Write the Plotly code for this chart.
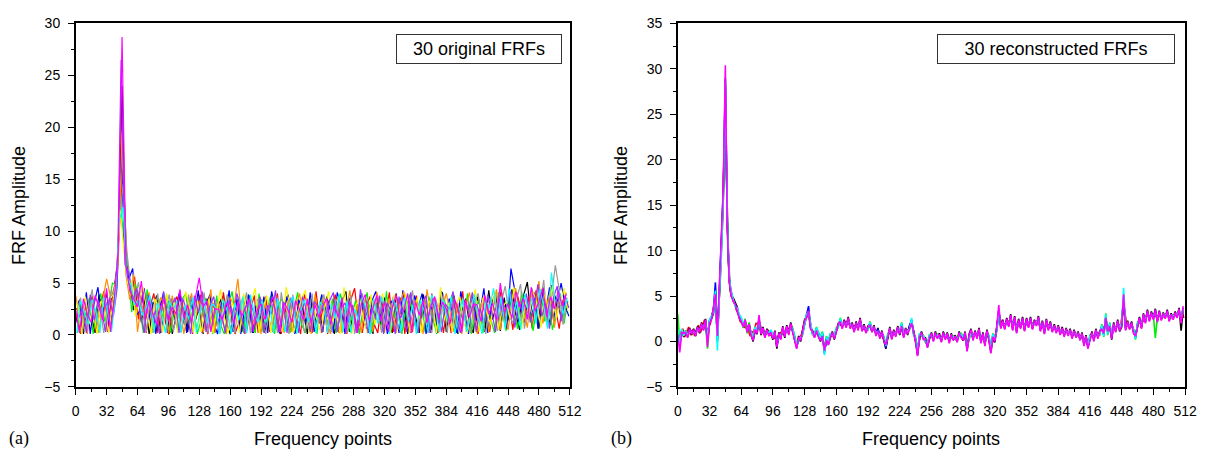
import plotly.graph_objects as go

W, H = 1224, 456

# ---------------- Panel (a): 30 original FRFs (subset of traces) -------------
# each series sampled every 4 frequency points, starting at its own offset
a_step = 4
a_black = [
    1.2, 3.4, 0.1, 2.8, 1.9, 0.2, 3.9, 2.2, 4.1, 1.1, 4.6, 7.5, 24.0, 6.3, 5.1, 2.4,
    4.3, 1.2, 3.6, 0.1, 2.9, 3.8, 0.2, 2.1, 3.3, 0.1, 1.7, 3.9, 2.5, 0.3, 3.1, 1.4,
    2.7, 0.1, 3.5, 1.8, 0.2, 2.9, 3.7, 1.2, 0.1, 2.6, 3.3, 0.3, 2.0, 3.8, 0.2, 1.9,
    3.4, 0.2, 2.2, 3.6, 1.0, 0.1, 2.8, 3.9, 1.5, 0.2, 3.2, 2.1, 0.1, 3.5, 1.3, 2.7,
    0.3, 3.7, 2.4, 0.1, 1.6, 3.3, 4.2, 0.3, 2.3, 0.2, 3.8, 1.7, 2.9, 0.1, 3.1, 1.0,
    3.6, 2.0, 0.2, 4.0, 1.4, 2.8, 0.1, 3.4, 1.9, 0.2, 3.9, 2.5, 0.2, 3.0, 1.6, 4.1,
    0.3, 2.6, 3.8, 0.1, 2.2, 3.5, 1.1, 0.2, 3.7, 2.4, 0.3, 4.3, 1.5, 2.9, 0.4, 3.6,
    1.4, 4.4, 2.0, 0.5, 3.8, 5.1, 1.6, 3.2, 0.6, 4.6, 2.3, 1.0, 3.9, 2.7, 1.5, 4.0]
a_red = [
    2.6, 0.1, 3.1, 1.5, 3.8, 0.3, 2.4, 4.2, 0.3, 3.5, 3.9, 9.5, 16.0, 7.2, 3.8, 5.6,
    1.5, 3.9, 0.2, 2.8, 4.0, 0.2, 3.3, 1.2, 0.1, 2.9, 3.7, 0.3, 1.9, 3.4, 0.1, 2.5,
    3.9, 1.3, 0.1, 3.1, 2.3, 0.2, 4.1, 1.7, 2.9, 0.1, 1.2, 3.6, 0.3, 2.4, 3.8, 0.2,
    2.1, 3.7, 0.3, 1.4, 4.0, 0.1, 2.6, 0.3, 3.3, 1.8, 0.1, 3.9, 2.7, 0.2, 4.2, 1.1,
    3.0, 0.1, 2.5, 3.9, 0.2, 1.9, 0.1, 3.4, 4.5, 1.3, 0.2, 2.8, 3.7, 1.1, 0.2, 3.3,
    1.7, 4.1, 0.3, 2.2, 3.6, 0.1, 2.9, 0.3, 3.8, 1.5, 2.3, 0.2, 4.0, 1.2, 3.1, 0.2,
    2.8, 0.2, 3.3, 1.9, 4.2, 0.3, 2.6, 3.9, 0.1, 3.2, 1.8, 0.3, 3.6, 2.1, 4.4, 1.0,
    3.0, 0.5, 4.1, 2.5, 1.2, 3.7, 0.6, 4.3, 2.0, 3.5, 1.1, 4.8, 2.6, 0.6, 3.4, 2.2]
a_green = [
    0.2, 2.9, 1.8, 3.6, 0.1, 2.5, 4.0, 1.3, 2.7, 5.0, 4.8, 13.0, 9.0, 6.6, 2.2, 4.9,
    3.0, 0.2, 4.4, 2.0, 0.3, 3.5, 1.6, 3.9, 0.2, 2.2, 0.3, 3.4, 4.0, 1.1, 2.7, 0.1,
    1.5, 3.6, 2.4, 0.1, 3.8, 1.0, 0.1, 2.7, 4.2, 1.6, 3.0, 0.2, 3.5, 1.2, 0.2, 4.0,
    0.3, 2.3, 3.8, 0.1, 2.9, 3.5, 1.3, 0.2, 2.4, 4.1, 1.0, 0.2, 3.2, 1.9, 0.1, 3.6,
    2.2, 1.0, 3.5, 0.2, 4.0, 2.6, 0.3, 1.9, 3.3, 0.1, 2.7, 4.1, 0.2, 2.3, 3.6, 0.3,
    4.2, 0.2, 1.8, 3.3, 0.1, 2.4, 3.9, 1.4, 0.2, 3.1, 0.3, 3.7, 1.7, 0.1, 2.8, 3.5,
    1.2, 3.9, 0.2, 2.7, 1.4, 4.0, 0.1, 2.5, 3.4, 0.2, 2.9, 1.6, 0.2, 4.1, 2.2, 0.4,
    3.6, 2.1, 0.6, 4.2, 1.7, 3.0, 0.4, 2.8, 4.4, 1.3, 3.6, 0.5, 2.4, 4.0, 1.1, 3.3]
a_blue = [
    3.3, 1.0, 4.1, 0.1, 3.0, 4.6, 1.7, 3.2, 1.0, 2.8, 5.2, 17.5, 7.5, 5.4, 6.4, 1.9,
    2.4, 4.5, 1.0, 3.2, 0.1, 2.6, 4.1, 0.2, 3.5, 1.4, 4.0, 2.3, 0.2, 3.7, 1.8, 4.3,
    0.2, 2.8, 3.9, 1.1, 0.1, 3.3, 2.0, 4.3, 0.3, 3.5, 0.1, 2.4, 3.9, 0.2, 2.9, 1.4,
    3.7, 0.2, 4.2, 2.5, 0.2, 1.8, 3.7, 2.3, 0.1, 3.4, 2.6, 1.1, 4.1, 0.3, 2.2, 3.9,
    1.3, 2.9, 0.2, 4.1, 2.8, 0.1, 3.6, 2.4, 0.3, 3.9, 1.2, 0.2, 3.3, 4.2, 1.7, 2.5,
    0.1, 3.3, 2.6, 0.2, 4.3, 1.6, 0.2, 3.8, 2.7, 4.0, 0.1, 2.1, 3.2, 0.2, 4.2, 1.5,
    3.5, 1.9, 0.2, 4.2, 2.4, 0.1, 3.7, 1.4, 2.2, 4.5, 0.2, 3.0, 4.0, 1.2, 3.4, 0.6,
    6.4, 4.3, 1.3, 3.5, 2.6, 2.0, 4.1, 0.6, 3.9, 2.2, 4.6, 1.5, 3.4, 5.0, 2.9, 1.8]
a_orange = [
    3.8, 1.6, 2.3, 0.1, 3.2, 2.0, 0.2, 3.4, 5.4, 3.7, 4.3, 6.8, 19.5, 5.8, 3.4, 5.9,
    0.3, 3.0, 1.8, 4.1, 0.2, 1.7, 3.6, 2.9, 0.1, 3.8, 1.1, 2.6, 0.1, 2.2, 4.0, 1.5,
    3.3, 0.2, 1.9, 4.4, 0.2, 3.2, 1.3, 0.1, 3.6, 2.8, 5.4, 1.5, 0.1, 3.2, 1.0, 2.6,
    0.1, 3.1, 1.6, 0.3, 3.8, 2.5, 0.2, 3.3, 0.3, 2.7, 4.0, 1.3, 2.6, 0.1, 3.9, 1.2,
    3.6, 1.4, 0.1, 2.9, 3.7, 0.2, 2.0, 4.3, 1.1, 3.0, 0.2, 3.5, 2.0, 0.3, 4.1, 2.8,
    0.2, 3.5, 2.2, 0.2, 3.0, 4.2, 1.2, 0.2, 3.3, 2.4, 0.1, 4.4, 1.9, 3.6, 0.2, 2.6,
    4.0, 2.3, 0.3, 3.1, 0.1, 2.6, 4.1, 1.9, 0.1, 2.9, 3.8, 0.3, 2.4, 4.4, 0.5, 2.7,
    0.5, 3.2, 4.5, 1.4, 2.5, 0.7, 3.9, 2.4, 5.2, 1.1, 2.9, 4.3, 0.7, 3.3, 2.5, 4.1]
a_gray = [
    1.9, 3.6, 0.3, 2.4, 4.4, 1.2, 3.0, 0.2, 2.1, 4.4, 3.1, 10.5, 14.5, 8.0, 4.7, 3.2,
    5.1, 2.3, 0.3, 3.3, 1.7, 4.0, 0.2, 2.5, 3.9, 0.3, 2.0, 3.2, 1.0, 3.9, 0.2, 3.0,
    2.0, 4.1, 0.2, 2.6, 3.4, 0.1, 2.2, 3.9, 1.2, 0.2, 3.7, 2.2, 4.1, 0.2, 2.7, 3.5,
    1.5, 0.1, 3.1, 2.8, 0.2, 4.1, 1.6, 0.1, 3.9, 1.2, 3.0, 0.2, 1.8, 4.0, 0.2, 2.4,
    3.9, 2.1, 0.3, 3.4, 1.2, 2.7, 0.2, 3.8, 0.1, 2.1, 4.0, 1.5, 0.1, 3.2, 2.2, 0.2,
    2.9, 1.3, 3.7, 1.0, 0.2, 3.4, 2.2, 4.3, 0.3, 2.6, 3.5, 1.0, 0.2, 3.5, 2.0, 3.9,
    0.2, 3.4, 2.1, 0.2, 3.6, 1.5, 0.2, 3.3, 4.0, 1.5, 0.1, 3.5, 2.8, 0.4, 3.1, 4.7,
    2.0, 1.1, 3.5, 4.9, 0.6, 2.8, 4.5, 1.6, 3.0, 5.3, 0.7, 3.7, 6.7, 4.4, 1.0, 3.6]
a_yellow = [
    3.0, 0.1, 3.7, 1.1, 2.6, 0.1, 3.3, 2.6, 0.2, 3.1, 5.5, 12.0, 8.0, 5.0, 5.2, 1.8,
    3.7, 4.6, 2.0, 0.1, 3.5, 2.7, 0.3, 4.0, 1.8, 3.2, 0.2, 2.0, 4.2, 2.6, 0.3, 3.3,
    0.3, 2.2, 3.5, 0.2, 2.5, 4.4, 1.7, 0.2, 3.2, 2.1, 0.2, 4.0, 1.9, 3.3, 4.5, 0.2,
    2.6, 3.8, 0.2, 3.3, 1.4, 0.3, 4.6, 2.8, 0.2, 2.2, 3.5, 4.3, 0.2, 2.9, 1.4, 0.2,
    2.6, 4.2, 1.3, 2.2, 0.1, 4.6, 1.5, 0.1, 2.8, 3.6, 1.6, 0.2, 3.9, 1.0, 2.5, 4.0,
    1.3, 0.2, 3.9, 2.9, 1.1, 4.0, 0.2, 2.2, 3.6, 0.2, 1.8, 3.3, 2.8, 0.2, 4.6, 1.4,
    3.1, 0.3, 2.9, 3.7, 1.2, 0.2, 2.7, 4.4, 0.3, 3.6, 2.2, 1.0, 4.2, 0.5, 2.6, 3.2,
    1.6, 4.6, 2.8, 0.6, 3.3, 1.9, 4.2, 3.0, 0.7, 3.9, 2.4, 4.7, 1.6, 3.1, 4.5, 2.3]
a_purple = [
    1.6, 2.7, 0.2, 3.9, 1.4, 3.3, 2.2, 0.3, 3.6, 1.8, 4.6, 26.5, 6.8, 6.0, 3.2, 4.5,
    2.1, 0.2, 3.9, 1.6, 2.3, 0.1, 4.2, 1.5, 2.8, 3.6, 0.2, 3.5, 2.3, 0.1, 3.8, 2.1,
    4.2, 0.3, 2.8, 3.7, 1.2, 2.1, 0.2, 3.4, 1.9, 4.0, 2.3, 0.1, 3.3, 2.6, 1.1, 3.7,
    0.2, 2.9, 2.0, 4.3, 0.3, 3.2, 0.2, 3.6, 2.1, 0.2, 3.7, 2.4, 0.3, 3.2, 2.8, 0.2,
    1.9, 3.3, 4.1, 0.3, 2.6, 3.1, 1.2, 2.9, 0.2, 4.4, 2.5, 0.2, 2.7, 1.5, 3.8, 0.1,
    3.1, 2.2, 0.1, 3.7, 2.1, 0.3, 4.1, 1.8, 0.2, 2.9, 3.8, 0.2, 3.4, 2.3, 0.3, 3.0,
    2.5, 4.2, 1.4, 0.2, 3.2, 2.4, 4.1, 0.3, 2.6, 1.1, 3.9, 2.3, 0.3, 3.5, 1.7, 2.9,
    4.2, 0.7, 3.1, 2.3, 4.0, 1.2, 2.6, 4.9, 1.8, 3.1, 0.6, 3.6, 4.7, 1.3, 3.8, 2.6]
a_cyan = [
    0.2, 3.3, 2.1, 1.0, 3.4, 2.2, 0.2, 3.7, 2.3, 0.3, 3.6, 11.0, 12.3, 5.6, 4.9, 2.9,
    3.4, 1.9, 2.6, 3.8, 0.2, 3.1, 2.0, 0.2, 3.3, 2.4, 3.3, 0.2, 2.9, 1.5, 3.6, 0.3,
    2.4, 3.4, 1.1, 3.0, 2.7, 0.1, 3.4, 2.3, 0.1, 3.1, 1.4, 3.7, 0.2, 3.9, 2.0, 1.2,
    3.4, 1.2, 2.9, 0.2, 3.5, 2.2, 0.3, 2.9, 3.7, 0.1, 2.3, 3.4, 1.2, 2.6, 0.2, 3.2,
    2.7, 0.2, 3.1, 1.6, 3.9, 0.3, 3.3, 0.2, 2.5, 1.4, 3.6, 2.6, 0.1, 3.5, 1.1, 3.7,
    2.2, 0.1, 3.4, 2.7, 0.3, 3.6, 1.3, 2.9, 0.1, 3.4, 2.4, 0.2, 3.9, 2.6, 0.3, 3.4,
    1.6, 3.7, 0.1, 2.3, 3.5, 0.3, 2.1, 3.9, 1.8, 0.1, 3.3, 2.6, 4.5, 1.7, 3.7, 0.6,
    4.5, 1.9, 3.3, 0.5, 4.0, 2.4, 3.6, 1.1, 4.4, 2.8, 0.6, 6.0, 3.0, 4.3, 2.0, 3.5]
a_magenta = [
    2.3, 0.2, 3.5, 2.0, 1.2, 3.8, 2.7, 1.4, 4.5, 0.3, 3.5, 8.2, 28.7, 6.7, 4.3, 3.5,
    2.7, 5.2, 1.4, 3.3, 2.0, 1.0, 2.8, 3.5, 1.3, 2.7, 2.0, 4.4, 1.6, 2.9, 1.2, 3.6,
    5.5, 2.7, 3.3, 0.3, 2.5, 2.5, 1.4, 3.1, 2.5, 1.0, 3.2, 1.8, 2.6, 3.5, 0.3, 2.4,
    3.0, 1.5, 2.5, 3.7, 1.8, 0.3, 3.1, 2.4, 1.2, 3.3, 2.4, 1.5, 3.5, 1.1, 2.9, 1.7,
    2.8, 3.5, 1.0, 2.9, 1.7, 3.6, 0.3, 3.2, 2.2, 0.2, 3.0, 3.9, 1.4, 2.5, 3.8, 1.3,
    3.3, 0.3, 2.6, 3.9, 1.6, 2.4, 4.0, 0.2, 3.2, 1.9, 3.3, 1.2, 2.8, 3.7, 1.5, 3.2,
    2.5, 1.1, 3.6, 2.6, 0.3, 3.4, 1.7, 3.0, 2.9, 1.3, 3.8, 2.0, 3.1, 1.4, 5.0, 2.2,
    3.0, 1.6, 4.2, 2.7, 3.5, 1.5, 4.6, 2.3, 3.2, 4.5, 1.8, 3.7, 2.5, 4.3, 2.8, 3.9]

a_series = [
    (a_black, 0, "#000000"), (a_red, 1, "#ff0000"), (a_green, 2, "#00ee00"),
    (a_blue, 3, "#0000ff"), (a_orange, 0, "#ff8c00"), (a_gray, 1, "#9a9a9a"),
    (a_yellow, 2, "#f5f500"), (a_purple, 3, "#9933ff"), (a_cyan, 1, "#00ffff"),
    (a_magenta, 0, "#ff00ff"),
]

# ---------------- Panel (b): 30 reconstructed FRFs (subset), every 2 frequency points -------------
b_step = 2
# series at even frequency points
b_black = [
    0.9, -0.5, 1.3, 0.5, 1.2, 0.5, 1.5, 0.7, 1.4, 0.6, 1.7, 0.9, 2.1, 1.3, 2.5, 0.1,
    2.1, 2.5, 3.1, 5.5, 0.0, 5.3, 9.0, 15.8, 28.2, 12.6, 6.6, 5.0, 4.8, 4.2, 3.8, 2.7,
    2.3, 1.7, 2.3, 1.1, 2.0, 0.8, 0.0, 1.2, 0.8, 2.4, 0.7, 1.6, 0.5, 1.4, 0.7, 0.9,
    0.2, 1.2, -0.8, 1.0, 0.3, 1.7, 0.4, 1.8, 0.8, 2.1, 1.1, 0.2, -0.5, 0.6, 0.0, 1.2,
    2.4, 2.7, 3.2, 1.5, 1.2, 0.5, 1.1, 0.6, 0.0, 0.7, -1.1, 0.1, -0.3, 0.4, 1.1, 0.2,
    1.0, 2.0, 2.1, 1.5, 2.4, 1.6, 2.7, 1.5, 2.1, 1.1, 2.2, 1.3, 2.6, 1.2, 1.9, 1.0,
    1.7, 1.7, 1.1, 1.8, 0.7, 1.5, 0.4, 1.2, 0.1, -0.8, 0.4, 1.6, 0.3, 1.3, 0.6, 1.7,
    0.7, 1.6, 0.5, 1.5, 0.7, 1.8, 2.2, 1.2, 0.1, -1.5, 0.4, 1.1, 0.3, 0.4, -0.6, 0.3,
    1.0, 0.1, 1.1, 0.4, 0.9, 0.0, 1.1, 0.3, 1.0, -0.1, 0.9, 0.2, 0.7, 0.0, 1.1, 0.5,
    0.1, 1.1, -1.0, 0.8, 1.4, 0.2, 1.2, 0.4, 1.5, -0.1, 1.0, -0.4, 1.3, 0.3, -1.2, 0.4,
    -0.1, 1.5, 3.4, 1.5, 2.4, 1.4, 2.6, 1.7, 3.0, 1.3, 2.8, 1.0, 2.5, 1.5, 2.7, 1.2,
    2.6, 1.6, 2.7, 1.4, 2.4, 1.8, 2.8, 1.2, 2.3, 0.9, 2.5, 1.3, 2.2, 1.1, 1.9, 1.0,
    1.8, 0.8, 1.6, 0.6, 1.5, 0.7, 1.4, 0.4, 1.3, 0.5, 1.1, 0.2, 1.0, -0.4, 0.7, -0.5,
    0.2, 1.1, 0.1, 1.4, 0.4, 1.2, 1.5, 1.0, 2.5, 1.2, 1.6, 0.2, 2.1, 1.1, 2.4, 1.1,
    1.6, 4.6, 1.3, 2.3, 1.4, 2.2, 1.0, 0.7, 1.7, 2.7, 1.5, 3.1, 2.1, 3.5, 2.3, 3.3,
    2.5, 3.6, 2.2, 3.4, 2.4, 3.2, 2.6, 3.5, 2.3, 3.1, 2.5, 3.3, 2.7, 3.7, 1.2, 3.4]
b_green = [
    3.0, -0.2, 1.0, 0.8, 1.0, 0.7, 1.2, 1.0, 1.1, 0.9, 1.4, 1.2, 1.8, 1.5, 2.2, -0.8,
    2.3, 2.7, 3.5, 5.9, 0.3, 5.4, 9.4, 16.2, 28.8, 13.1, 6.7, 5.1, 4.5, 3.9, 3.5, 2.9,
    2.6, 1.5, 2.5, 0.9, 2.1, 0.6, 0.4, 1.1, 1.3, 2.2, 1.2, 1.1, 0.8, 0.9, 1.0, 0.8,
    0.7, 0.7, -0.1, 0.5, 0.7, 1.2, 0.9, 1.3, 1.2, 1.6, 1.5, 0.6, -0.3, 0.1, 0.5, 0.7,
    1.9, 3.1, 3.0, 1.9, 0.7, 0.9, 1.6, 1.0, 0.5, 1.1, -0.9, 0.6, 0.1, 0.9, 0.6, 0.7,
    1.5, 1.5, 2.6, 1.9, 1.9, 2.0, 2.2, 1.9, 1.6, 1.5, 1.7, 1.7, 2.1, 1.6, 1.4, 1.4,
    1.2, 2.2, 1.5, 1.3, 1.1, 1.0, 0.8, 0.7, 0.6, -0.3, 0.9, 1.1, 0.7, 0.8, 1.0, 1.2,
    1.2, 2.1, 0.9, 1.0, 1.2, 1.3, 2.1, 0.7, 0.5, -1.1, 0.9, 0.6, 0.7, -0.1, -0.2, 0.8,
    0.5, 0.5, 0.6, 0.8, 0.4, 0.4, 0.6, 0.7, 0.5, 0.3, 0.4, 0.6, 0.2, 0.4, 0.6, 0.9,
    0.6, 0.6, -0.6, 0.3, 0.9, 0.6, 0.7, 0.8, 1.0, 0.3, 0.5, 0.0, 0.8, 0.7, -0.8, 0.9,
    0.5, 1.1, 3.2, 1.9, 1.9, 1.8, 2.1, 2.1, 2.5, 1.7, 2.3, 1.4, 2.0, 1.9, 2.2, 1.6,
    2.1, 2.0, 2.2, 1.8, 1.9, 2.2, 2.3, 1.6, 1.8, 1.3, 2.0, 1.7, 1.7, 1.5, 1.4, 1.4,
    1.3, 1.2, 1.1, 1.0, 1.0, 1.1, 0.9, 0.8, 0.8, 0.9, 0.6, 0.6, 0.5, 0.0, 0.2, -0.3,
    0.7, 0.6, 0.5, 0.9, 0.8, 0.7, 1.9, 0.5, 3.1, 0.7, 2.1, 0.7, 1.6, 1.5, 1.9, 1.6,
    2.1, 4.6, 1.7, 1.8, 1.8, 1.7, 1.4, 0.2, 2.1, 2.2, 1.9, 2.6, 2.5, 3.0, 2.7, 2.8,
    2.9, 0.4, 2.6, 2.9, 2.8, 2.7, 3.0, 3.0, 2.7, 2.6, 2.9, 2.8, 3.1, 3.2, 2.5, 3.5]
b_blue = [
    1.1, -0.3, 1.1, 0.8, 0.9, 0.8, 1.2, 1.1, 1.1, 1.0, 1.4, 1.3, 1.8, 1.5, 2.2, 0.4,
    2.3, 2.7, 3.5, 6.5, 0.4, 5.6, 9.8, 16.8, 29.0, 13.2, 6.9, 5.3, 4.5, 3.9, 3.5, 2.9,
    2.5, 1.9, 2.1, 1.3, 1.7, 1.0, 0.2, 1.5, 1.1, 2.5, 1.0, 1.3, 0.7, 1.1, 0.9, 1.2,
    0.4, 0.9, -0.5, 0.7, 0.5, 1.4, 0.7, 1.5, 1.0, 1.8, 1.3, 0.4, -0.7, 0.3, 0.3, 0.9,
    2.1, 2.9, 3.9, 1.7, 0.9, 0.7, 1.4, 0.8, 0.3, 0.9, -1.3, 0.4, -0.1, 0.7, 0.8, 0.5,
    1.3, 1.7, 2.4, 1.7, 2.1, 1.8, 2.4, 1.7, 1.8, 1.3, 1.9, 1.5, 2.3, 1.4, 1.6, 1.2,
    1.4, 2.0, 1.3, 1.5, 0.9, 1.4, 0.6, 0.9, 0.4, -0.7, 0.7, 1.3, 0.5, 1.0, 0.8, 1.4,
    1.0, 1.9, 0.7, 1.2, 1.0, 1.7, 2.4, 0.9, 0.3, -1.3, 0.7, 0.8, 0.5, 0.1, -0.4, 0.6,
    0.7, 0.3, 0.8, 0.6, 0.6, 0.2, 0.8, 0.5, 0.7, 0.1, 0.6, 0.4, 0.4, 0.2, 0.8, 0.7,
    0.4, 0.8, -0.8, 0.5, 1.1, 0.4, 0.9, 0.6, 1.2, 0.1, 0.7, -0.2, 1.0, 0.5, -1.0, 0.7,
    0.3, 1.3, 3.5, 1.7, 2.1, 1.6, 2.3, 1.9, 2.7, 1.5, 2.5, 1.2, 2.2, 1.7, 2.4, 1.4,
    2.3, 1.8, 2.4, 1.6, 2.1, 2.0, 2.5, 1.4, 2.0, 1.1, 2.2, 1.5, 1.9, 1.3, 1.6, 1.2,
    1.5, 1.0, 1.3, 0.8, 1.2, 0.9, 1.1, 0.6, 1.0, 0.7, 0.8, 0.4, 0.7, -0.2, 0.4, -0.7,
    0.5, 0.8, 0.3, 1.1, 0.6, 0.9, 1.7, 0.7, 2.7, 0.9, 1.9, 0.5, 1.8, 1.3, 2.1, 1.4,
    1.9, 4.9, 1.5, 2.0, 1.6, 1.9, 1.2, 0.4, 1.9, 2.4, 1.7, 2.8, 2.3, 3.2, 2.5, 3.0,
    2.7, 3.3, 2.4, 3.1, 2.6, 2.9, 2.8, 3.2, 2.5, 2.8, 2.7, 3.0, 2.9, 3.4, 2.3, 3.7]
b_cyan = [
    1.3, -0.4, 1.4, 0.6, 1.2, 0.7, 1.1, 1.0, 1.0, 0.9, 1.3, 1.2, 1.7, 1.6, 2.1, 0.5,
    2.4, 2.8, 3.2, 5.6, -1.0, 5.2, 9.2, 16.0, 28.5, 13.5, 7.0, 5.4, 4.7, 3.8, 3.7, 3.0,
    2.6, 2.0, 2.0, 1.4, 1.6, 1.1, 0.4, 1.6, 1.2, 2.3, 1.1, 1.2, 0.8, 1.0, 1.0, 1.3,
    0.7, 0.8, -0.2, 0.6, 0.6, 1.3, 0.8, 1.4, 1.1, 1.7, 1.4, 0.5, -0.4, 0.2, 0.4, 0.8,
    2.0, 3.0, 3.3, 1.8, 0.8, 0.8, 1.5, 0.9, 0.4, 1.0, -1.5, 0.5, 0.0, 0.8, 0.7, 0.6,
    1.4, 1.6, 2.5, 1.8, 2.0, 1.9, 2.3, 1.8, 1.7, 1.4, 1.8, 1.6, 2.2, 1.5, 1.5, 1.3,
    1.3, 2.1, 1.4, 1.4, 1.0, 1.1, 0.7, 0.8, 0.5, -0.5, 0.8, 1.2, 0.6, 0.9, 0.9, 1.3,
    1.1, 2.0, 0.8, 1.1, 1.1, 1.4, 2.6, 0.8, 0.4, -1.2, 0.8, 0.7, 0.6, 0.0, -0.3, 0.7,
    0.6, 0.4, 0.7, 0.7, 0.5, 0.3, 0.7, 0.6, 0.6, 0.2, 0.5, 0.5, 0.3, 0.3, 0.7, 0.8,
    0.5, 0.7, -0.7, 0.4, 1.0, 0.5, 0.8, 0.7, 1.1, 0.2, 0.6, -0.1, 0.9, 0.6, -0.9, 0.8,
    0.4, 1.2, 3.3, 1.8, 2.0, 1.7, 2.2, 2.0, 2.6, 1.6, 2.4, 1.3, 2.1, 1.8, 2.3, 1.5,
    2.2, 1.9, 2.3, 1.7, 2.0, 2.1, 2.4, 1.5, 1.9, 1.2, 2.1, 1.6, 1.8, 1.4, 1.5, 1.3,
    1.4, 1.1, 1.2, 0.9, 1.1, 1.0, 1.0, 0.7, 0.9, 0.8, 0.7, 0.5, 0.6, -0.1, 0.3, -0.4,
    0.6, 0.7, 0.4, 1.0, 0.7, 0.8, 1.8, 0.6, 3.0, 0.8, 2.0, 0.6, 1.7, 1.4, 2.0, 1.5,
    2.0, 5.9, 1.6, 1.9, 1.7, 1.8, 1.3, 0.3, 2.0, 2.3, 1.8, 2.7, 2.4, 3.1, 2.6, 2.9,
    2.8, 3.2, 2.5, 3.0, 2.7, 2.8, 2.9, 3.1, 2.6, 2.7, 2.8, 2.9, 3.0, 3.3, 2.4, 3.6]
b_magenta = [
    0.8, -1.2, 1.0, 0.9, 1.0, 0.4, 1.4, 0.8, 1.3, 0.6, 1.6, 1.0, 2.0, 1.2, 2.4, -0.6,
    2.0, 2.4, 3.6, 5.2, 0.6, 5.8, 10.0, 17.0, 30.4, 12.5, 6.5, 5.0, 4.4, 4.1, 3.4, 2.6,
    2.2, 1.6, 2.4, 1.0, 1.9, 0.7, 0.1, 1.3, 0.9, 2.9, 0.8, 1.5, 0.4, 1.3, 0.6, 1.0,
    0.3, 1.1, -0.6, 0.9, 0.2, 1.6, 0.5, 1.7, 0.7, 2.0, 1.0, 0.1, -0.8, 0.5, 0.1, 1.1,
    2.3, 2.6, 3.4, 1.4, 1.1, 0.4, 1.2, 0.5, 0.1, 0.6, -1.0, 0.2, -0.4, 0.5, 1.0, 0.3,
    1.1, 1.9, 2.2, 1.4, 2.3, 1.5, 2.6, 1.4, 2.0, 1.0, 2.1, 1.2, 2.5, 1.1, 1.8, 0.9,
    1.6, 1.8, 1.0, 1.7, 0.6, 1.2, 0.3, 1.1, 0.2, -0.4, 0.5, 1.5, 0.2, 1.2, 0.5, 1.6,
    0.8, 1.7, 0.4, 1.4, 0.8, 1.5, 2.0, 1.1, 0.0, -1.6, 0.5, 1.0, 0.2, 0.3, -0.7, 0.4,
    0.9, 0.0, 1.0, 0.3, 0.8, -0.1, 1.0, 0.2, 0.9, -0.2, 0.8, 0.1, 0.6, -0.1, 1.0, 0.4,
    0.2, 1.0, -1.1, 0.7, 1.3, 0.1, 1.1, 0.3, 1.4, -0.2, 0.9, -0.5, 1.2, 0.2, -1.3, 0.5,
    0.0, 1.6, 4.0, 1.4, 2.3, 1.3, 2.5, 1.6, 2.9, 1.2, 2.7, 0.9, 2.4, 1.4, 2.6, 1.1,
    2.5, 1.5, 2.6, 1.3, 2.3, 1.7, 2.7, 1.1, 2.2, 0.8, 2.4, 1.2, 2.1, 1.0, 1.8, 0.9,
    1.7, 0.7, 1.5, 0.5, 1.4, 0.6, 1.3, 0.3, 1.2, 0.4, 1.0, 0.1, 0.9, -0.5, 0.6, -0.8,
    0.3, 1.0, 0.0, 1.3, 0.3, 1.1, 1.4, 0.9, 2.6, 1.1, 1.7, 0.3, 2.0, 1.0, 2.3, 1.2,
    1.7, 5.2, 1.2, 2.2, 1.3, 2.1, 0.9, 0.6, 1.6, 2.6, 1.4, 3.0, 2.0, 3.4, 2.2, 3.2,
    2.4, 3.5, 2.1, 3.3, 2.3, 3.1, 2.5, 3.4, 2.2, 3.0, 2.4, 3.2, 2.6, 3.6, 2.0, 3.9]
# series at odd frequency points
b_red = [
    0.2, 0.9, 1.4, 0.5, 1.0, 1.6, 0.7, 1.3, 0.6, 1.2, 1.8, 1.0, 1.6, 2.4, 1.2, 1.5,
    2.0, 3.1, 4.2, 2.8, 2.5, 7.5, 12.5, 22.0, 20.0, 8.8, 5.5, 4.8, 4.5, 3.5, 3.0, 2.2,
    2.0, 1.5, 1.9, 1.3, 0.6, 1.0, 1.2, 2.0, 1.9, 1.6, 1.1, 0.8, 1.0, 1.3, 0.7, 0.9,
    0.4, 0.3, 0.5, 0.9, 1.1, 0.8, 1.2, 1.3, 1.6, 1.4, 0.7, -0.3, 0.0, 0.5, 0.8, 1.8,
    2.6, 3.3, 2.5, 1.2, 0.7, 1.0, 0.9, 0.3, 0.6, -0.3, -0.4, 0.1, 0.3, 0.8, 0.5, 0.9,
    1.6, 2.0, 1.8, 2.0, 2.1, 2.2, 1.9, 1.8, 1.5, 1.7, 1.6, 2.0, 1.8, 1.4, 1.3, 1.4,
    1.8, 1.5, 1.3, 1.1, 1.0, 0.8, 0.7, 0.5, -0.2, 0.1, 1.0, 0.8, 0.8, 0.9, 1.2, 1.1,
    1.4, 1.1, 0.9, 1.2, 1.3, 2.0, 1.6, 0.5, -0.6, -0.3, 0.8, 0.6, 0.2, -0.2, 0.0, 0.7,
    0.4, 0.6, 0.7, 0.6, 0.3, 0.5, 0.6, 0.6, 0.3, 0.4, 0.5, 0.4, 0.2, 0.6, 0.8, 0.4,
    0.7, -0.1, -0.2, 0.9, 0.7, 0.6, 0.8, 0.9, 0.6, 0.4, 0.2, 0.4, 0.8, -0.4, -0.3, 0.4,
    0.8, 2.5, 2.6, 1.9, 1.8, 2.0, 2.1, 2.3, 2.1, 2.0, 1.8, 1.7, 1.9, 2.0, 1.9, 1.8,
    2.0, 2.1, 2.0, 1.8, 2.0, 2.2, 1.9, 1.7, 1.5, 1.6, 1.9, 1.7, 1.6, 1.4, 1.4, 1.3,
    1.2, 1.1, 1.0, 1.0, 1.0, 1.0, 0.8, 0.8, 0.9, 0.7, 0.6, 0.5, 0.2, 0.1, -0.1, -0.1,
    0.6, 0.5, 0.7, 0.8, 0.8, 1.3, 1.2, 1.8, 1.9, 1.4, 1.1, 1.2, 1.5, 1.7, 1.8, 1.5,
    3.5, 3.3, 1.7, 1.8, 1.7, 1.5, 0.8, 1.1, 2.1, 2.0, 2.2, 2.5, 2.8, 2.8, 2.8, 2.9,
    3.0, 2.8, 2.7, 2.9, 2.7, 2.8, 3.0, 2.8, 2.6, 2.7, 2.8, 3.0, 3.2, 2.8, 3.0, 2.6]
b_gray = [
    0.5, 0.6, 1.1, 0.8, 0.7, 1.3, 1.0, 1.0, 0.9, 1.4, 1.4, 1.3, 1.9, 2.0, 0.9, 1.1,
    2.5, 2.8, 4.6, 2.0, 3.2, 7.0, 13.5, 23.0, 19.0, 9.5, 6.0, 4.9, 4.2, 3.8, 3.2, 2.5,
    2.2, 1.8, 1.6, 1.6, 1.2, 0.5, 0.8, 1.3, 1.6, 1.9, 1.3, 0.9, 0.8, 1.0, 1.0, 0.7,
    0.8, 0.2, 0.2, 0.6, 0.9, 1.1, 1.1, 1.2, 1.4, 1.6, 0.8, -0.1, -0.2, 0.3, 0.6, 1.5,
    2.4, 3.0, 2.7, 1.4, 0.9, 0.8, 1.0, 0.5, 0.5, -0.1, -0.6, 0.1, 0.2, 0.7, 0.7, 0.8,
    1.4, 2.1, 1.9, 1.8, 1.9, 2.1, 2.1, 1.7, 1.6, 1.6, 1.7, 1.9, 1.9, 1.5, 1.5, 1.3,
    1.6, 1.6, 1.5, 1.2, 1.1, 0.9, 0.8, 0.6, -0.1, 0.0, 0.9, 1.0, 0.7, 0.9, 1.1, 1.3,
    1.3, 1.2, 1.0, 1.1, 1.2, 1.9, 1.7, 0.6, -0.4, -0.4, 0.7, 0.7, 0.3, -0.1, -0.1, 0.6,
    0.5, 0.5, 0.8, 0.6, 0.4, 0.5, 0.7, 0.5, 0.4, 0.3, 0.5, 0.3, 0.3, 0.5, 0.7, 0.5,
    0.6, 0.0, -0.1, 0.8, 0.8, 0.7, 0.7, 0.8, 0.7, 0.4, 0.3, 0.3, 0.7, -0.3, -0.2, 0.3,
    0.9, 2.4, 2.7, 1.8, 1.9, 1.9, 2.2, 2.2, 2.2, 1.9, 1.9, 1.8, 1.8, 2.1, 1.8, 1.9,
    2.1, 2.0, 2.1, 1.9, 1.9, 2.3, 1.8, 1.8, 1.6, 1.5, 1.8, 1.8, 1.5, 1.5, 1.3, 1.4,
    1.3, 1.2, 1.1, 0.9, 1.1, 0.9, 0.9, 0.7, 0.8, 0.8, 0.5, 0.6, 0.3, 0.2, 0.0, 0.0,
    0.7, 0.6, 0.6, 0.9, 0.7, 1.2, 1.3, 1.7, 2.0, 1.3, 1.2, 1.1, 1.6, 1.6, 1.9, 1.6,
    3.2, 3.6, 1.8, 1.7, 1.8, 1.6, 0.9, 1.0, 2.2, 2.1, 2.1, 2.6, 2.7, 2.9, 2.7, 2.8,
    3.1, 2.7, 2.8, 2.8, 2.8, 2.9, 2.9, 2.9, 2.7, 2.6, 2.9, 2.9, 3.1, 2.9, 2.9, 2.9]

b_series = [
    (b_gray, 1, "#8c8c8c"), (b_red, 1, "#ff0000"),
    (b_black, 0, "#000000"), (b_green, 0, "#00ee00"), (b_blue, 0, "#0000ff"),
    (b_cyan, 0, "#00ffff"), (b_magenta, 0, "#ff00ff"),
]

x_ticks = [0, 32, 64, 96, 128, 160, 192, 224, 256, 288, 320, 352, 384, 416, 448, 480, 512]
ya_range = [-5, 30]
yb_range = [-5, 35]
legend_a = "30 original FRFs"
legend_b = "30 reconstructed FRFs"
x_title = "Frequency points"
y_title = "FRF Amplitude"

fig = go.Figure()
for vals, off, col in a_series:
    xs = [a_step * i + off for i in range(len(vals))]
    fig.add_trace(go.Scatter(x=xs, y=vals, mode="lines", line=dict(color=col, width=1.2),
                             xaxis="x", yaxis="y", showlegend=False, hoverinfo="skip"))
for vals, off, col in b_series:
    xs = [b_step * i + off for i in range(len(vals))]
    fig.add_trace(go.Scatter(x=xs, y=vals, mode="lines", line=dict(color=col, width=1.6),
                             xaxis="x2", yaxis="y2", showlegend=False, hoverinfo="skip"))


def fx(p):
    return p / W


def fy(p):
    return 1 - p / H


tickfont = dict(family="Liberation Sans, Arial, sans-serif", size=14, color="black")
common = dict(showline=True, linecolor="black", linewidth=1.5, mirror=True,
              ticks="outside", ticklen=6, tickwidth=1.3, tickcolor="black",
              showgrid=False, zeroline=False, tickfont=tickfont, ticklabelstandoff=5)

xcommon = dict(common, range=[0, 512], tickmode="array", tickvals=x_ticks,
               ticktext=[str(t) for t in x_ticks],
               minor=dict(tickmode="linear", tick0=0, dtick=16, ticklen=3, tickwidth=1,
                          ticks="outside", tickcolor="black"))
ycommon = dict(common, tick0=0, dtick=5,
               minor=dict(tick0=0, dtick=2.5, ticklen=3, tickwidth=1, ticks="outside",
                          tickcolor="black"))

ydom = [fy(392.7), fy(16)]
fig.update_layout(
    width=W, height=H, margin=dict(l=0, r=0, t=0, b=0),
    paper_bgcolor="white", plot_bgcolor="white",
    xaxis=dict(xcommon, domain=[fx(72.7), fx(573.3)], anchor="y"),
    yaxis=dict(ycommon, domain=ydom, range=ya_range, anchor="x"),
    xaxis2=dict(xcommon, domain=[fx(682.7), fx(1196.7)], anchor="y2"),
    yaxis2=dict(ycommon, domain=ydom, range=yb_range, anchor="x2"),
)

tfont = dict(family="Liberation Sans, Arial, sans-serif", size=18, color="black")
ann = []
for (x0, x1, ytx) in [(72.7, 573.3, 15), (682.7, 1196.7, 625)]:
    ann.append(dict(text=x_title, x=fx((x0 + x1) / 2), y=fy(446.5), xref="paper", yref="paper",
                    showarrow=False, xanchor="center", yanchor="middle", font=tfont))
    ann.append(dict(text=y_title, x=fx(ytx), y=(ydom[0] + ydom[1]) / 2, xref="paper", yref="paper",
                    showarrow=False, textangle=-90, xanchor="center", yanchor="middle", font=tfont))
serif = dict(family="Liberation Serif, Times New Roman, serif", size=18, color="black")
ann.append(dict(text="(a)", x=fx(15.5), y=fy(446.5), xref="paper", yref="paper", showarrow=False,
                xanchor="center", yanchor="middle", font=serif))
ann.append(dict(text="(b)", x=fx(626), y=fy(446.5), xref="paper", yref="paper", showarrow=False,
                xanchor="center", yanchor="middle", font=serif))
ann.append(dict(text=legend_a, x=fx(565), y=fy(27), xref="paper", yref="paper", showarrow=False,
                xanchor="right", yanchor="top", width=158, height=22, borderpad=3,
                bordercolor="#333333", borderwidth=1, bgcolor="white", font=tfont))
ann.append(dict(text=legend_b, x=fx(1187), y=fy(27), xref="paper", yref="paper", showarrow=False,
                xanchor="right", yanchor="top", width=230, height=22, borderpad=3,
                bordercolor="#333333", borderwidth=1, bgcolor="white", font=tfont))
fig.update_layout(annotations=ann)

fig.write_html("out.html")
